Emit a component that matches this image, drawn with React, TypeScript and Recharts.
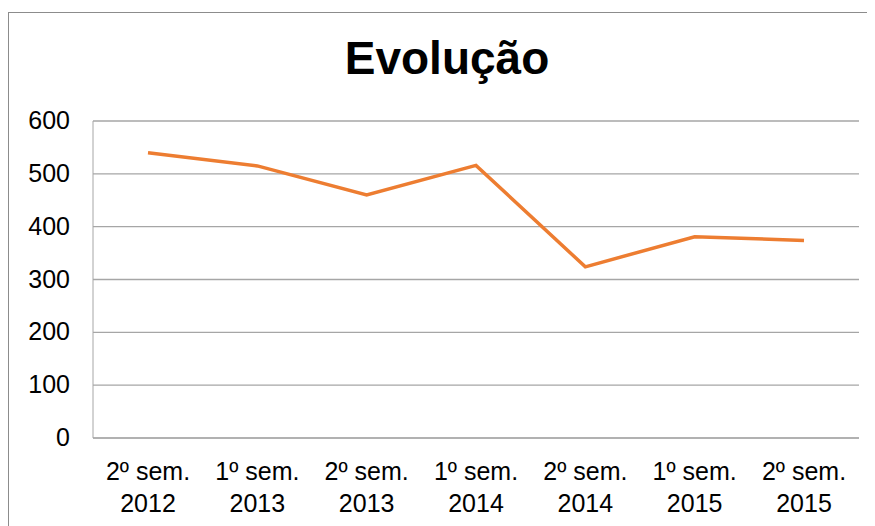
import React from 'react';
import { LineChart, Line, XAxis, YAxis, CartesianGrid } from 'recharts';

const periods = ['2º sem.|2012', '1º sem.|2013', '2º sem.|2013', '1º sem.|2014', '2º sem.|2014', '1º sem.|2015', '2º sem.|2015'];
const values = [540, 515, 460, 516, 324, 381, 374];
const yTicks = [0, 100, 200, 300, 400, 500, 600];

const data = periods.map((p, i) => ({ period: p, value: values[i] }));

const FONT = '"Liberation Sans", Arial, sans-serif';

function PeriodTick({ x, y, payload }: any) {
  const [a, b] = String(payload.value).split('|');
  return (
    <text x={x} y={y} textAnchor="middle" fill="#000" fontSize={25} fontFamily={FONT}>
      <tspan x={x} dy={42}>{a}</tspan>
      <tspan x={x} dy={32}>{b}</tspan>
    </text>
  );
}

function ValueTick({ x, y, payload }: any) {
  return (
    <text x={x} y={y} dy={8} textAnchor="end" fill="#000" fontSize={25} fontFamily={FONT}>
      {payload.value}
    </text>
  );
}

export default function App() {
  return (
    <div style={{ position: 'relative', width: 867, height: 518, overflow: 'hidden', background: '#fff' }}>
      <div style={{ position: 'absolute', left: 0, top: 4, width: 1000, height: 700, borderLeft: '1px solid #8c8c8c', borderTop: '1px solid #8c8c8c' }} />
      <LineChart width={867} height={518} data={data} margin={{ top: 113, right: 16, bottom: 18, left: 0 }} style={{ position: 'absolute', left: 0, top: 0 }}>
        <text x={439} y={66} textAnchor="middle" fontSize={46} fontWeight="bold" fontFamily={FONT} fill="#000">Evolução</text>
        <CartesianGrid vertical={false} stroke="#a6a6a6" strokeWidth={1.3} />
        <XAxis dataKey="period" interval={0} height={70} padding={{ left: 55, right: 55 }} tickLine={false} tickSize={0} tickMargin={0} stroke="#a6a6a6" tick={<PeriodTick />} />
        <YAxis domain={[0, 600]} ticks={yTicks} width={85} tickLine={false} tickSize={0} tickMargin={23} stroke="#a6a6a6" tick={<ValueTick />} />
        <Line type="linear" dataKey="value" stroke="#ED7D31" strokeWidth={3.5} dot={false} isAnimationActive={false} />
      </LineChart>
    </div>
  );
}
